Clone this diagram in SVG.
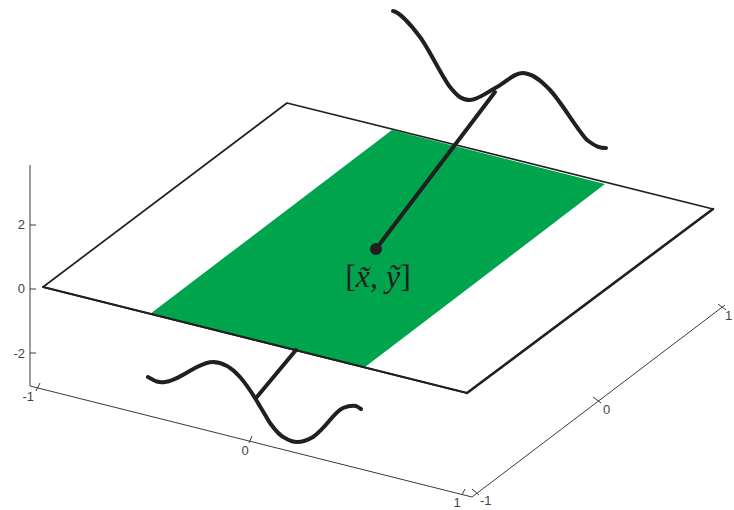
<svg xmlns="http://www.w3.org/2000/svg" width="734" height="510" viewBox="0 0 734 510">
<style>
.ax{stroke:#3a3a3a;stroke-width:1;fill:none}
.tk{stroke:#3a3a3a;stroke-width:1;fill:none}
.lbl{font-family:"Liberation Sans",Arial,sans-serif;font-size:13px;fill:#444}
.edge{stroke:#231f20;fill:none;stroke-linecap:round;stroke-linejoin:round}
.wave{stroke:#231f20;stroke-width:4;fill:none;stroke-linecap:round;stroke-linejoin:round}
.math{font-family:"Liberation Serif","DejaVu Serif",serif;font-size:32px;fill:#231f20}
</style>
<rect width="734" height="510" fill="#fff"/>
<g id="axes">
<path class="ax" d="M30,165 L30,386 L472,497 L725,305"/>
<path class="tk" d="M30,225 H36 M30,289 H36 M30,353 H36"/>
<path class="tk" d="M36,391 L40,383 M249,443 L252,436 M462,495 L465,489"/>
<path class="tk" d="M472,489 L479,495 M593,397 L601,403 M718,304 L726,310"/>
<text class="lbl" x="25" y="229" text-anchor="end">2</text>
<text class="lbl" x="25" y="293" text-anchor="end">0</text>
<text class="lbl" x="25" y="358" text-anchor="end">-2</text>
<text class="lbl" x="34" y="401" text-anchor="end">-1</text>
<text class="lbl" x="245" y="455" text-anchor="middle">0</text>
<text class="lbl" x="457" y="507" text-anchor="middle">1</text>
<text class="lbl" x="480" y="505">-1</text>
<text class="lbl" x="603" y="414">0</text>
<text class="lbl" x="725" y="320">1</text>
</g>
<g id="plane">
<polygon points="43,287 287,103 713,209 467,393" fill="#fff"/>
<polygon points="392,130 605,184 365,367 150,314" fill="#00a44d"/>
<path class="edge" stroke-width="1.7" d="M467,393 L43,287 L287,103 L713,209"/>
<path class="edge" stroke-width="2" d="M43,287 L467,393"/>
<path class="edge" stroke-width="2.6" d="M713,209 L467,393"/>
</g>
<g id="connectors">
<line class="wave" x1="376" y1="249" x2="495" y2="92"/>
<line class="wave" x1="296" y1="350" x2="256" y2="398"/>
</g>
<g id="top-wave">
<path class="wave" d="M393,11 C399,12 410.5,24.3 420,37 C429.5,49.7 441.7,76.5 450,87 C458,97 462.2,100 470,100 C477.8,100 488.2,91.5 497,87 C505.8,82.5 514.2,72.5 523,73 C531.8,73.5 539.3,78.8 550,90 C560.7,101.2 577.7,130.3 587,140 C596.3,147 600,148 606,148"/>
</g>
<g id="bottom-wave">
<path class="wave" d="M148,377 C155,381 158,383 165,382 C175,381 185,373 197,367 C203,364 208,362 213,362 C222,362 232,368 240,377 C246,384 250,390 255,398 C260,406 265,415 270,423 C275,430 280,436 285,438 C290,441 294,442 297,442 C303,442 308,440 313,437 C320,432 325,426 330,420 C335,414 339,410 343,408 C348,406 352,405 356,406 C358,407 360,408 361,409"/>
</g>
<g id="point">
<circle cx="376" cy="249" r="6" fill="#231f20"/>
<text class="math" x="378" y="287" text-anchor="middle">[<tspan font-style="italic">x̃</tspan>, <tspan font-style="italic">ỹ</tspan>]</text>
</g>
</svg>
